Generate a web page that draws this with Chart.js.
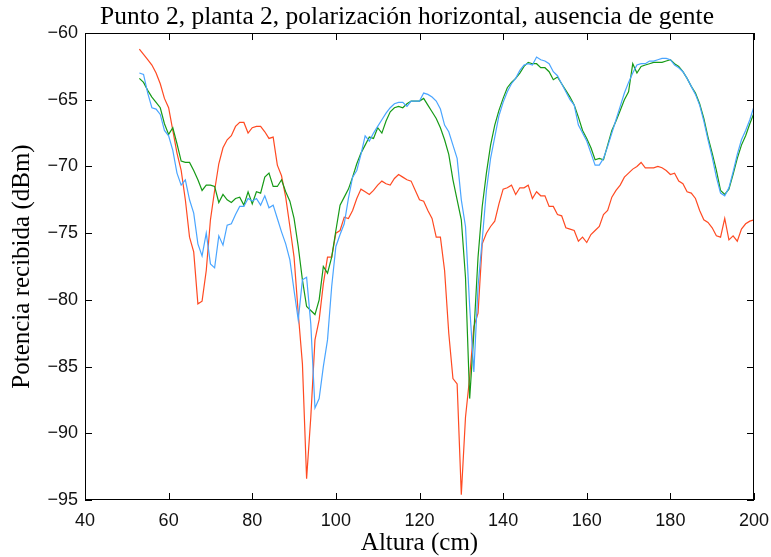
<!DOCTYPE html>
<html>
<head>
<meta charset="utf-8">
<script src="https://cdn.jsdelivr.net/npm/chart.js@4"></script>
<style>
  html, body { margin: 0; padding: 0; background: #fff; }
</style>
</head>
<body>
<canvas id="myChart" width="771" height="557"></canvas>
<script>
// Altura (cm) de cada medida
let alturas = [
  53, 54, 55, 56, 57, 58, 59, 60, 61, 62,
  63, 64, 65, 66, 67, 68, 69, 70, 71, 72,
  73, 74, 75, 76, 77, 78, 79, 80, 81, 82,
  83, 84, 85, 86, 87, 88, 89, 90, 91, 92,
  93, 94, 95, 96, 97, 98, 99, 100, 101, 102,
  103, 104, 105, 106, 107, 108, 109, 110, 111, 112,
  113, 114, 115, 116, 117, 118, 119, 120, 121, 122,
  123, 124, 125, 126, 127, 128, 129, 130, 131, 132,
  133, 134, 135, 136, 137, 138, 139, 140, 141, 142,
  143, 144, 145, 146, 147, 148, 149, 150, 151, 152,
  153, 154, 155, 156, 157, 158, 159, 160, 161, 162,
  163, 164, 165, 166, 167, 168, 169, 170, 171, 172,
  173, 174, 175, 176, 177, 178, 179, 180, 181, 182,
  183, 184, 185, 186, 187, 188, 189, 190, 191, 192,
  193, 194, 195, 196, 197, 198, 199, 200
];

// potencia recibida (dBm), serie roja
let potRoja = [
  -61.2, -61.6, -62.0, -62.4, -63.0, -63.8, -64.9, -65.6, -67.3, -69.0,
  -70.3, -72.5, -75.3, -76.4, -80.3, -80.1, -77.8, -74.0, -71.8, -69.8,
  -68.6, -68.0, -67.7, -67.0, -66.7, -66.7, -67.5, -67.1, -67.0, -67.0,
  -67.4, -67.9, -67.8, -69.9, -70.7, -72.3, -74.5, -76.8, -81.0, -84.8,
  -93.4, -88.8, -83.0, -81.5, -78.8, -76.8, -76.8, -75.0, -74.8, -73.8,
  -73.9, -73.3, -72.4, -71.7, -71.9, -72.1, -71.8, -71.4, -71.1, -71.3,
  -71.4, -70.9, -70.6, -70.8, -71.0, -71.1, -71.8, -72.5, -72.6, -73.3,
  -73.9, -75.3, -75.3, -77.8, -82.5, -85.9, -86.3, -94.6, -88.8, -85.8,
  -82.0, -81.0, -75.8, -75.0, -74.5, -74.1, -72.8, -71.7, -71.6, -71.4,
  -72.1, -71.6, -71.6, -71.4, -72.4, -71.9, -72.2, -72.2, -73.0, -73.0,
  -73.6, -73.7, -74.6, -74.7, -74.8, -75.6, -75.3, -75.7, -75.1, -74.8,
  -74.5, -73.6, -73.3, -72.3, -71.8, -71.4, -70.8, -70.5, -70.2, -70.0,
  -69.7, -70.1, -70.1, -70.1, -70.0, -70.1, -70.3, -70.6, -70.5, -71.1,
  -71.3, -71.9, -72.0, -72.4, -73.3, -74.0, -74.2, -74.6, -75.2, -75.3,
  -73.9, -75.5, -75.2, -75.6, -74.7, -74.3, -74.1, -74.0
];

// serie verde
let potVerde = [
  -63.4, -63.7, -64.3, -64.8, -65.2, -65.6, -66.8, -67.6, -67.1, -68.3,
  -69.6, -69.7, -69.7, -70.3, -71.0, -71.8, -71.4, -71.4, -71.5, -72.7,
  -72.1, -72.5, -72.7, -72.4, -72.3, -72.9, -71.9, -72.8, -71.9, -72.0,
  -70.8, -70.5, -71.5, -71.5, -71.0, -71.9, -72.6, -73.9, -76.0, -78.5,
  -80.5, -80.8, -81.1, -80.0, -77.5, -78.0, -76.8, -74.8, -72.9, -72.3,
  -71.7, -70.8, -69.8, -69.0, -68.4, -67.8, -67.9, -67.1, -67.5, -66.6,
  -65.9, -65.6, -65.5, -65.6, -65.3, -65.1, -65.1, -65.1, -64.9, -65.4,
  -65.9, -66.4, -67.1, -68.0, -69.1, -71.0, -72.5, -74.0, -78.3, -87.4,
  -82.5, -76.8, -73.0, -70.5, -68.4, -66.9, -65.8, -64.9, -64.1, -63.7,
  -63.4, -63.0, -62.5, -62.2, -62.3, -62.3, -62.6, -62.6, -62.9, -63.5,
  -63.3, -63.8, -64.3, -64.8, -65.4, -66.3, -67.3, -67.9, -68.6, -69.5,
  -69.4, -69.5, -68.4, -67.3, -66.6, -65.8, -65.0, -64.4, -62.3, -63.0,
  -62.5, -62.4, -62.3, -62.2, -62.2, -62.2, -62.1, -62.0, -62.3, -62.5,
  -62.9, -63.4, -64.0, -64.5, -65.3, -66.4, -67.8, -69.0, -70.3, -71.8,
  -72.1, -71.7, -70.6, -69.4, -68.4, -67.7, -66.8, -66.0
];

// serie azul
let potAzul = [
  -63.0, -63.1, -64.5, -65.6, -65.7, -66.1, -67.3, -67.7, -68.8, -70.5,
  -71.4, -71.0, -72.5, -73.5, -75.8, -76.7, -75.0, -77.3, -77.6, -75.2,
  -75.9, -74.4, -74.3, -73.6, -73.0, -73.0, -72.4, -72.6, -72.4, -72.9,
  -72.2, -73.1, -72.9, -73.9, -74.9, -75.8, -77.0, -79.3, -81.5, -78.5,
  -78.3, -81.8, -88.1, -87.4, -85.0, -83.0, -79.0, -76.0, -75.1, -74.3,
  -72.4, -70.8, -70.3, -69.1, -67.7, -68.1, -67.5, -67.0, -66.5, -66.0,
  -65.6, -65.3, -65.2, -65.2, -65.5, -65.1, -65.1, -65.1, -64.5, -64.6,
  -64.8, -65.1, -65.7, -66.9, -67.4, -68.4, -69.4, -72.5, -74.5, -80.5,
  -85.4, -79.0, -75.5, -71.8, -69.4, -67.8, -66.2, -65.2, -64.4, -63.8,
  -63.4, -62.8, -62.4, -62.3, -62.4, -61.8, -62.0, -62.1, -62.3, -62.9,
  -63.2, -63.8, -64.4, -65.0, -65.4, -66.9, -67.5, -68.1, -69.0, -69.9,
  -69.9, -69.4, -68.5, -67.5, -66.5, -65.5, -64.5, -63.7, -63.0, -62.4,
  -62.3, -62.3, -62.1, -62.1, -62.0, -61.9, -61.9, -62.0, -62.4, -62.6,
  -62.9, -63.4, -64.0, -64.6, -65.4, -66.6, -68.0, -69.3, -70.8, -72.0,
  -72.2, -71.6, -70.4, -69.1, -68.0, -67.3, -66.5, -65.5
];

let ticksX = [40, 60, 80, 100, 120, 140, 160, 180, 200];
let ticksY = [-95, -90, -85, -80, -75, -70, -65, -60];

function puntos(valores) {
  return alturas.map(function (a, i) {
    return { x: a, y: valores[i] };
  });
}

let serif = "'Liberation Serif', 'Times New Roman', serif";
let sans = "'Liberation Sans', Arial, sans-serif";

// caja con marcas hacia dentro en los cuatro lados
let cajaPlugin = {
  id: "caja",
  afterLayout: function (chart) {
    // el titulo va un poco a la izquierda del centro de los ejes
    if (chart.titleBlock) {
      chart.titleBlock.left = 60;
      chart.titleBlock.right = 754;
    }
  },
  afterDraw: function (chart) {
    let ctx = chart.ctx;
    let a = chart.chartArea;
    let sx = chart.scales.x;
    let sy = chart.scales.y;
    let len = 7;
    ctx.save();
    ctx.strokeStyle = "#000";
    ctx.lineWidth = 1;
    ctx.strokeRect(Math.round(a.left) + 0.5, Math.round(a.top) + 0.5,
      Math.round(a.right - a.left) - 1, Math.round(a.bottom - a.top) - 1);
    ctx.beginPath();
    ticksX.forEach(function (v) {
      let px = Math.round(sx.getPixelForValue(v)) + 0.5;
      ctx.moveTo(px, a.bottom);
      ctx.lineTo(px, a.bottom - len);
      ctx.moveTo(px, a.top);
      ctx.lineTo(px, a.top + len);
    });
    ticksY.forEach(function (v) {
      let py = Math.round(sy.getPixelForValue(v)) + 0.5;
      ctx.moveTo(a.left, py);
      ctx.lineTo(a.left + len, py);
      ctx.moveTo(a.right, py);
      ctx.lineTo(a.right - len, py);
    });
    ctx.stroke();
    ctx.restore();
  },
};

let ctx = document.getElementById("myChart").getContext("2d");
let lineChart = new Chart(ctx, {
  type: "line",
  data: {
    datasets: [
      {
        data: puntos(potRoja),
        borderColor: "#ff4a22",
        borderWidth: 1.2,
        pointRadius: 0,
        order: 3,
      },
      {
        data: puntos(potVerde),
        borderColor: "#169a16",
        borderWidth: 1.2,
        pointRadius: 0,
        order: 2,
      },
      {
        data: puntos(potAzul),
        borderColor: "#4aa5ff",
        borderWidth: 1.2,
        pointRadius: 0,
        order: 1,
      },
    ],
  },
  options: {
    responsive: false,
    animation: false,
    layout: { padding: { left: 0, right: 17, top: 0, bottom: 0 } },
    plugins: {
      legend: { display: false },
      tooltip: { enabled: false },
      title: {
        display: true,
        fullSize: false,
        text: "Punto 2, planta 2, polarización horizontal, ausencia de gente",
        color: "#000",
        font: { family: serif, size: 25.5, weight: "normal", lineHeight: 1.15 },
        padding: { top: 3, bottom: 0.7 },
      },
    },
    scales: {
      x: {
        type: "linear",
        min: 40,
        max: 200,
        afterBuildTicks: function (s) {
          s.ticks = ticksX.map(function (v) { return { value: v }; });
        },
        ticks: {
          padding: 10,
          color: "#111",
          font: { family: sans, size: 18 },
        },
        grid: { display: false, drawTicks: false },
        border: { display: false },
        title: {
          display: true,
          text: "Altura (cm)",
          color: "#000",
          font: { family: serif, size: 25, lineHeight: 1.0 },
          padding: { top: 0, bottom: 1 },
        },
        afterFit: function (s) {
          s.height = 57;
          s.paddingLeft = 0;
          s.paddingRight = 0;
        },
      },
      y: {
        type: "linear",
        min: -95,
        max: -60,
        afterBuildTicks: function (s) {
          s.ticks = ticksY.map(function (v) { return { value: v }; });
        },
        ticks: {
          padding: 7,
          color: "#111",
          font: { family: sans, size: 18 },
          callback: function (v) {
            return String(v).replace("-", "\u2212");
          },
        },
        grid: { display: false, drawTicks: false },
        border: { display: false },
        title: {
          display: true,
          text: "Potencia recibida (dBm)",
          color: "#000",
          font: { family: serif, size: 25, lineHeight: 1.0 },
          padding: { top: 10, bottom: 0 },
        },
        afterFit: function (s) {
          s.width = 85;
          s.paddingTop = 0;
          s.paddingBottom = 0;
        },
      },
    },
  },
  plugins: [cajaPlugin],
});
</script>
</body>
</html>
